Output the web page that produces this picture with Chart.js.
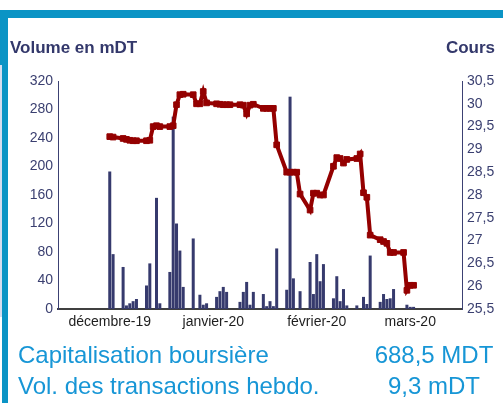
<!DOCTYPE html>
<html>
<head>
<meta charset="utf-8">
<script src="https://cdn.jsdelivr.net/npm/chart.js@4"></script>
<style>
  html, body { margin: 0; padding: 0; background: #fff; }
  body { width: 503px; height: 403px; position: relative; overflow: hidden; font-family: "Liberation Sans", Arial, sans-serif; }
  .band { position: absolute; background: #0b94c5; }
  .pale { position: absolute; background: #d5ddef; }
  #chart { position: absolute; left: 0; top: 0; }
  .title { position: absolute; top: 38px; line-height: 20px; font-weight: bold; font-size: 17px; color: #33386b; }
  .info { position: absolute; line-height: 28px; font-size: 24px; color: #1796d6; white-space: nowrap; }
  .val { left: 374px; width: 120px; text-align: center; }
</style>
</head>
<body>
<div class="band" style="left:0;top:10px;width:503px;height:8px"></div>
<div class="band" style="left:0;top:10px;width:8px;height:55px"></div>
<div class="band" style="left:2px;top:65px;width:6px;height:338px"></div>
<div class="pale" style="left:0;top:65px;width:2px;height:252px"></div>

<canvas id="chart" width="503" height="403"></canvas>

<div class="title" style="left:10px">Volume en mDT</div>
<div class="title" style="right:8px">Cours</div>

<div class="info" style="left:18px;top:341px">Capitalisation boursière</div>
<div class="info val" style="top:341px">688,5 MDT</div>
<div class="info" style="left:18px;top:372px">Vol. des transactions hebdo.</div>
<div class="info val" style="top:372px">9,3 mDT</div>

<script>
// Axe des dates : un jour calendaire par catégorie (16/11/2019 -> 15/03/2020)
const nDays = 121;
const monthTicks = [15, 46, 77, 105];
const monthLabels = ['décembre-19', 'janvier-20', 'février-20', 'mars-20'];

// Séances de bourse (indice du jour), volume en mDT et cours
const tradeDays = [15, 16, 19, 20, 21, 22, 23, 26, 27, 28, 29, 30, 33, 34, 35, 36, 37,
    40, 41, 42, 43, 44, 47, 48, 49, 50, 51, 54, 55, 56, 57, 58, 61, 62, 63, 64, 65,
    68, 69, 70, 71, 72, 75, 76, 77, 78, 79, 82, 83, 84, 85, 86, 89, 90, 91, 92, 93,
    96, 97, 98, 99, 100, 103, 104, 105, 106];
const volumes = [193, 77, 59, 5, 8, 11, 14, 33, 64, 0, 156, 8, 52, 270, 120, 82, 31,
    99, 0, 20, 6, 8, 17, 25, 31, 24, 0, 10, 24, 38, 6, 24, 21, 4, 11, 4, 85,
    27, 298, 43, 0, 25, 66, 21, 77, 39, 63, 15, 46, 11, 28, 5, 5, 0, 17, 7, 75,
    10, 21, 14, 15, 28, 0, 6, 3, 3];
const cours = [29.28, 29.27, 29.24, 29.22, 29.20, 29.19, 29.19, 29.19, 29.20, 29.50, 29.52, 29.50, 29.50, 29.52, 29.98, 30.20, 30.21,
    30.20, 30.00, 30.00, 30.27, 30.02, 30.00, 29.99, 29.98, 29.98, 29.98, 29.98, 29.97, 29.78, 29.97, 29.99, 29.90, 29.90, 29.90, 29.90, 29.10,
    28.50, 28.50, 28.50, 28.50, 28.02, 27.67, 28.04, 28.04, 28.00, 28.00, 28.63, 28.82, 28.80, 28.70, 28.78, 28.80, 28.90, 28.05, 27.95, 27.12,
    27.02, 26.98, 26.94, 26.74, 26.74, 26.74, 25.91, 26.02, 26.02];

const navy = '#363a6d';
const red = '#940000';

const days = Array.from({ length: nDays }, (_, i) => i);
const volData = days.map(() => null);
const coursData = days.map(() => null);
tradeDays.forEach((d, i) => {
    volData[d] = volumes[i];
    coursData[d] = cours[i];
});

Chart.defaults.font.family = '"Liberation Sans", Arial, sans-serif';
Chart.defaults.font.size = 14;

new Chart(document.getElementById('chart'), {
    type: 'bar',
    data: {
        labels: days,
        datasets: [
            {
                type: 'line',
                data: coursData,
                yAxisID: 'y1',
                borderColor: red,
                borderWidth: 4,
                pointStyle: 'rect',
                pointRadius: 4,
                pointBackgroundColor: red,
                pointBorderColor: red,
                pointBorderWidth: 1,
                spanGaps: true,
                tension: 0,
                order: 1
            },
            {
                data: volData,
                yAxisID: 'y',
                backgroundColor: navy,
                barPercentage: 0.9,
                categoryPercentage: 1.0,
                order: 2
            }
        ]
    },
    options: {
        responsive: false,
        animation: false,
        devicePixelRatio: 1,
        layout: { padding: { top: 81, left: 0, right: 0, bottom: 0 } },
        plugins: { legend: { display: false }, tooltip: { enabled: false } },
        scales: {
            x: {
                grid: { display: false, drawTicks: false },
                border: { display: true, color: '#404040', width: 2 },
                afterBuildTicks: axis => {
                    axis.ticks = axis.ticks.filter(t => monthTicks.includes(t.value));
                },
                afterFit: s => { s.height = 94; },
                ticks: {
                    autoSkip: false,
                    maxRotation: 0,
                    padding: 5,
                    color: '#1e1e1e',
                    callback: v => {
                        const k = monthTicks.indexOf(v);
                        return k >= 0 ? monthLabels[k] : '';
                    }
                }
            },
            y: {
                position: 'left',
                min: 0,
                max: 320,
                grid: { display: false, drawTicks: false },
                border: { display: true, color: '#3c4173', width: 1 },
                afterFit: s => { s.width = 58; },
                ticks: { stepSize: 40, padding: 5, color: '#3a3f70' }
            },
            y1: {
                position: 'right',
                min: 25.5,
                max: 30.5,
                grid: { display: false, drawTicks: false },
                border: { display: true, color: '#3c4173', width: 1 },
                afterFit: s => { s.width = 41; },
                ticks: {
                    stepSize: 0.5,
                    padding: 5,
                    color: '#3a3f70',
                    callback: v => String(v).replace('.', ',')
                }
            }
        }
    }
});
</script>
</body>
</html>
